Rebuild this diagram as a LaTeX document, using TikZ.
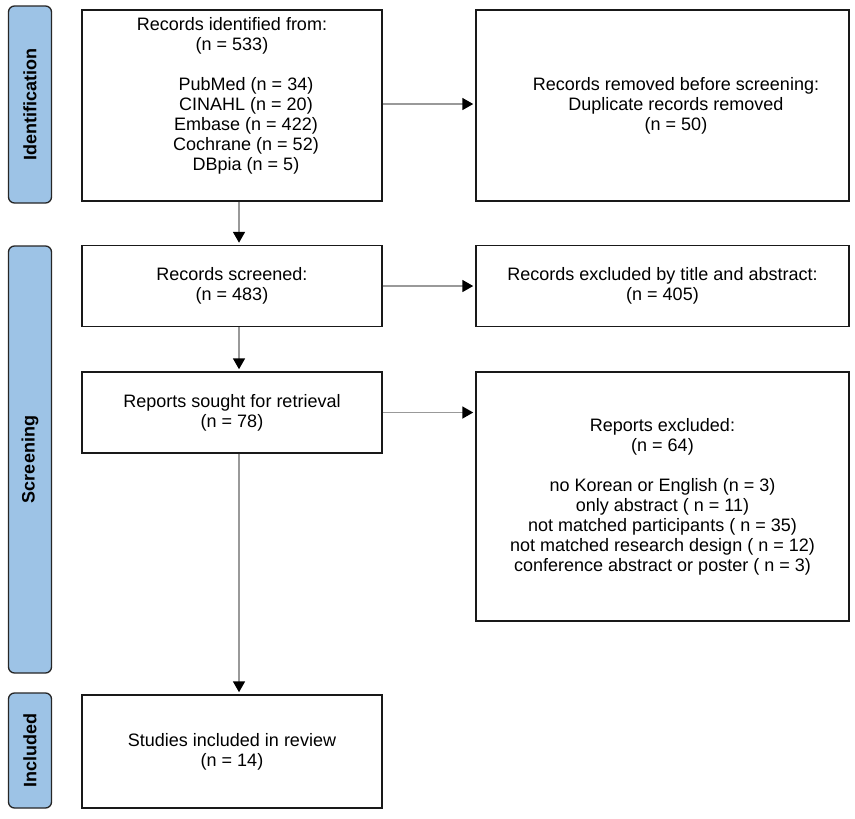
\documentclass[tikz,border=0pt]{standalone}
\usepackage{fontspec}
\setmainfont{Liberation Sans}
\usetikzlibrary{arrows.meta}
\definecolor{phaseblue}{HTML}{9DC3E6}
\begin{document}
\begin{tikzpicture}[x=1pt,y=-1pt,
  every node/.style={font=\fontsize{18}{20}\selectfont, inner sep=0pt},
  box/.style={draw=black!90, line width=1.5pt, fill=white, align=center},
  leftbox/.style={box, minimum width=300pt},
  rightbox/.style={box, minimum width=373pt},
  phase/.style={draw=black!85, line width=1.3pt, fill=phaseblue, rounded corners=6pt,
    rotate=90, minimum height=43pt, font=\fontsize{18}{20}\selectfont\bfseries},
  arr/.style={draw=black!40, line width=1.8pt, shorten >=2pt,
    -{Triangle[length=11pt,width=12pt,color=black]}}
]
\useasboundingbox (0,0) rectangle (855,819);
\fill[white] (0,0) rectangle (855,819);

% phase bars
\node[phase, minimum width=197pt] (pid) at (30,104.5) {Identification};
\node[phase, minimum width=427pt] (pscr) at (30,459.5) {Screening};
\node[phase, minimum width=115pt] (pinc) at (30,750.5) {Included};

% boxes
\node[leftbox, minimum height=191pt] (ident) at (232,105.5) {};
\node[align=center] (identtxt) at (232,96) {Records identified from:\\(n = 533)\\[20pt]
\hspace*{28pt}PubMed (n = 34)\\
\hspace*{28pt}CINAHL (n = 20)\\
\hspace*{28pt}Embase (n = 422)\\
\hspace*{28pt}Cochrane (n = 52)\\
\hspace*{28pt}DBpia (n = 5)};

\node[rightbox, minimum height=191pt] (removed) at (662.5,105.5) {};
\node[align=center] (removedtxt) at (676,106) {Records removed before screening:\\Duplicate records removed\\(n = 50)};

\node[leftbox, minimum height=81pt] (screened) at (232,286) {Records screened:\\(n = 483)};
\node[rightbox, minimum height=81pt] (excl1) at (662.5,286) {Records excluded by title and abstract:\\(n = 405)};

\node[leftbox, minimum height=81pt] (sought) at (232,412.5) {Reports sought for retrieval\\(n = 78)};
\node[rightbox, minimum height=249pt] (excl2) at (662.5,496.5) {Reports excluded:\\(n = 64)\\[20pt]
no Korean or English (n = 3)\\
only abstract ( n = 11)\\
not matched participants ( n = 35)\\
not matched research design ( n = 12)\\
conference abstract or poster ( n = 3)};

\node[leftbox, minimum height=113pt] (included) at (232,751.5) {Studies included in review\\(n = 14)};

% arrows
\draw[arr] (ident.east |- 0,104) -- (removed.west |- 0,104);
\draw[arr] (ident.south -| 239,0) -- (screened.north -| 239,0);
\draw[arr] (screened.east) -- (excl1.west);
\draw[arr] (screened.south -| 239,0) -- (sought.north -| 239,0);
\draw[arr] (sought.east) -- (excl2.west |- sought.east);
\draw[arr] (sought.south -| 239,0) -- (included.north -| 239,0);
\end{tikzpicture}
\end{document}
